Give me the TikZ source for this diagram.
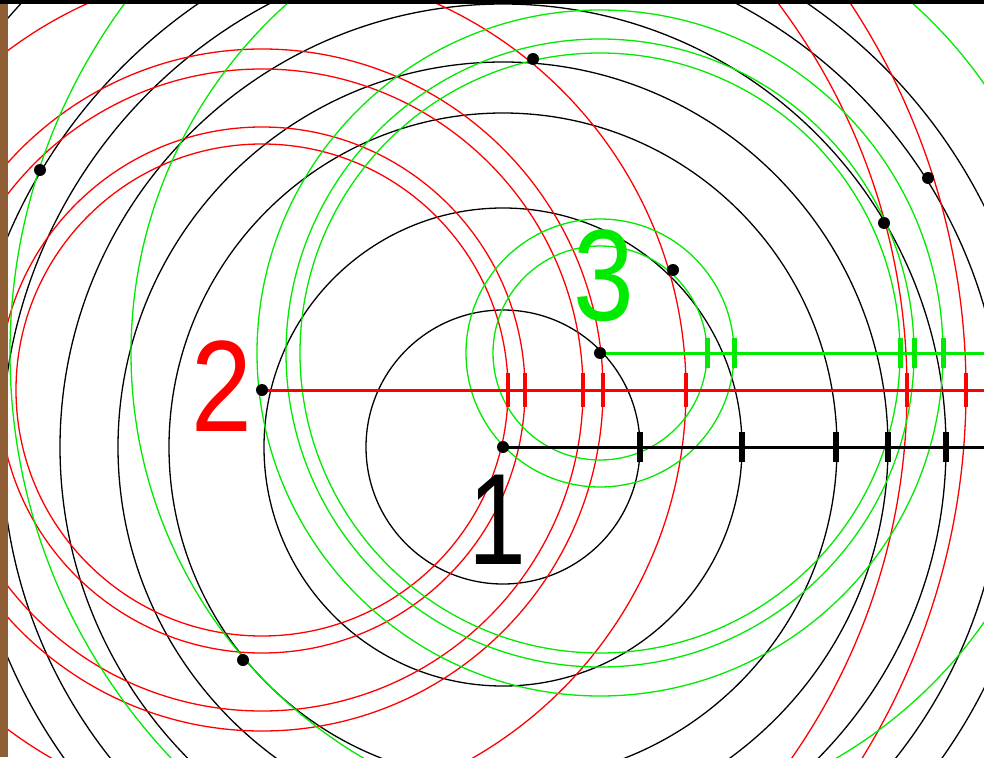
\documentclass[tikz,border=0pt]{standalone}
\usepackage{fontspec}
\setmainfont{Liberation Sans}
\usepackage{tikz}
\usetikzlibrary{calc}

\definecolor{framebrown}{RGB}{143,94,52}
\definecolor{beaconred}{RGB}{255,0,0}
\definecolor{beacongreen}{RGB}{0,235,0}

\newcommand{\bigdigit}{\fontsize{130}{130}\selectfont}

\tikzset{
  ring/.style={line width=1.3pt},
  baseline ray/.style={line width=3pt},
  fixdot/.style={fill=black},
  digit/.style={inner sep=0pt, font=\bigdigit}
}

\begin{document}
\begin{tikzpicture}[x=1pt, y=-1pt]

  % ---------- Frame ----------
  \clip (0,0) rectangle (984,757);
  \fill[white] (0,0) rectangle (984,757);

  % ---------- Stations ----------
  \coordinate (s1) at (503,447);
  \coordinate (s2) at (262,390);
  \coordinate (s3) at (600,353);
  \coordinate (e1) at (984,447);
  \coordinate (e2) at (984,390);
  \coordinate (e3) at (984,353);

  % ---------- Range rings ----------
  \foreach \r in {137,239,334,385,443,501,538,655}
    \draw[ring, black] (s1) circle[radius=\r pt];
  \foreach \r in {246,263,321,341,424,645,704}
    \draw[ring, beaconred] (s2) circle[radius=\r pt];
  \foreach \r in {107,134,300,314,343,469,590}
    \draw[ring, beacongreen] (s3) circle[radius=\r pt];

  % ---------- Baselines with range ticks ----------
  \draw[baseline ray, beaconred] (s2) -- (e2);
  \foreach \r in {246,263,321,341,424,645,704}
    \draw[line width=4pt, beaconred] ($(s2)+(\r,-17)$) -- ($(s2)+(\r,17)$);

  \draw[baseline ray, beacongreen] (s3) -- (e3);
  \foreach \r in {107,134,300,314,343}
    \draw[line width=5pt, beacongreen] ($(s3)+(\r,-15)$) -- ($(s3)+(\r,15)$);

  \draw[baseline ray, black] (s1) -- (e1);
  \foreach \r in {137,239,333,385,443}
    \draw[line width=6pt, black] ($(s1)+(\r,-15)$) -- ($(s1)+(\r,15)$);

  % ---------- Fixes ----------
  \foreach \p in {s1,s2,s3}
    \fill[fixdot] (\p) circle[radius=6pt];
  \foreach \x/\y in {40/170, 533/59, 928/178, 884/223, 673/270, 243/660}
    \fill[fixdot] (\x,\y) circle[radius=6pt];

  % ---------- Labels ----------
  \node[digit, black] (lab1) at (497,520) {\scalebox{0.8}[1]{1}};
  \node[digit, beaconred] (lab2) at (222,386) {\scalebox{0.84}[1]{2}};
  \node[digit, beacongreen] (lab3) at (604,276) {\scalebox{0.84}[1]{3}};

  % ---------- Edges of the photo ----------
  \fill[framebrown] (0,0) rectangle (8,757);
  \fill[black] (0,0) rectangle (984,4);

\end{tikzpicture}
\end{document}
